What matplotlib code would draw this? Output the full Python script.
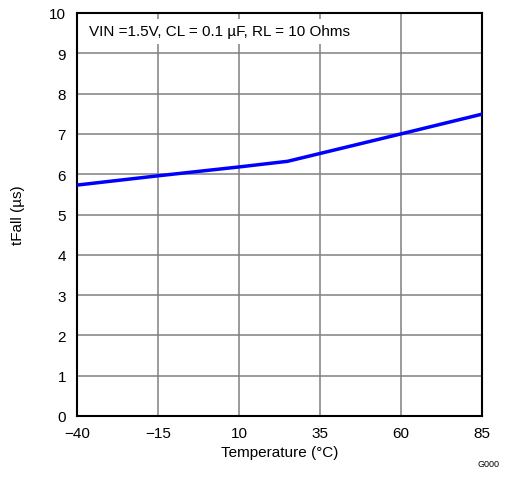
import matplotlib
matplotlib.use("Agg")
import matplotlib.pyplot as plt

plt.rcParams['font.family'] = ['Liberation Sans', 'DejaVu Sans']

temp = [-40, -15, 10, 25, 60, 85]
tfall = [5.73, 5.96, 6.18, 6.32, 7.0, 7.49]
xticks = [-40, -15, 10, 35, 60, 85]
xlabels = ['\u221240', '\u221215', '10', '35', '60', '85']
yticks = list(range(0, 11))

fig = plt.figure(figsize=(5.06, 4.81), dpi=100)
ax = fig.add_axes([77/506, 1 - 417/481, 405/506, 403/481])

ax.plot(temp, tfall, color='#0000ff', lw=2.5, solid_capstyle='butt', zorder=3)
ax.set_xlim(-40, 85)
ax.set_ylim(0, 10)
ax.set_xticks(xticks)
ax.set_xticklabels(xlabels)
ax.set_yticks(yticks)
ax.grid(True, color='#808080', lw=1.1)
ax.tick_params(length=0, labelsize=11)
ax.tick_params(axis='x', pad=7)
ax.tick_params(axis='y', pad=8)
for s in ax.spines.values():
    s.set_linewidth(1.5)

ax.set_xlabel('Temperature (°C)', fontsize=11, labelpad=4)
ax.set_ylabel('tFall (µs)', fontsize=11)
ax.yaxis.set_label_coords(-52/405, 0.5)

ax.text(0.03, 0.955, 'VIN =1.5V, CL = 0.1 µF, RL = 10 Ohms', transform=ax.transAxes,
        fontsize=11, va='center', ha='left',
        bbox=dict(facecolor='white', edgecolor='none', pad=4))
fig.text(500/506, 1 - 465/481, 'G000', fontsize=6.5, ha='right', va='center')

fig.savefig('out.png', dpi=100)
